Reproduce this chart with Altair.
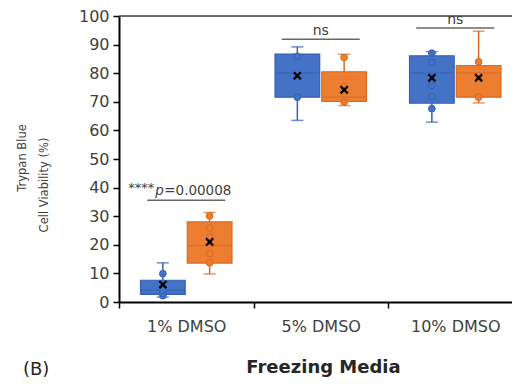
import altair as alt
import pandas as pd

categories = ["1% DMSO", "5% DMSO", "10% DMSO"]
series_names = ["Series 1", "Series 2"]
fills = ["#4472C4", "#ED7D31"]
strokes = ["#3461B3", "#D56A22"]

# box statistics (per category)
s1_lo = [1.7, 63.5, 62.9]
s1_q1 = [2.7, 71.6, 69.5]
s1_med = [4.1, 80.1, 80.1]
s1_q3 = [7.6, 86.7, 86.1]
s1_hi = [13.7, 89.2, 87.5]
s1_mean = [6.1, 79.1, 78.4]

s2_lo = [9.8, 68.7, 69.6]
s2_q1 = [13.6, 70.1, 71.6]
s2_med = [19.7, 71.6, 80.1]
s2_q3 = [28.0, 80.5, 82.7]
s2_hi = [31.3, 86.6, 94.7]
s2_mean = [21.0, 74.2, 78.4]

# individual points
s1_points = [[2.2, 3.0, 4.0, 9.9], [71.6, 85.9], [67.6, 71.8, 75.7, 83.8, 87.0]]
s2_points = [[13.7, 16.9, 22.6, 25.9, 30.1], [69.9, 75.3, 85.5], [71.6, 79.1, 84.0]]

# significance annotations
sig_bar_y = [35.6, 91.9, 95.8]
sig_labels = ["", "ns", "ns"]

frame_top = [100]

rows = []
for i, c in enumerate(categories):
    rows.append(dict(cat=c, series=series_names[0], lo=s1_lo[i], q1=s1_q1[i], med=s1_med[i],
                     q3=s1_q3[i], hi=s1_hi[i], mean=s1_mean[i]))
    rows.append(dict(cat=c, series=series_names[1], lo=s2_lo[i], q1=s2_q1[i], med=s2_med[i],
                     q3=s2_q3[i], hi=s2_hi[i], mean=s2_mean[i]))
box_df = pd.DataFrame(rows)

prow = []
for i, c in enumerate(categories):
    for v in s1_points[i]:
        prow.append(dict(cat=c, series=series_names[0], value=v))
    for v in s2_points[i]:
        prow.append(dict(cat=c, series=series_names[1], value=v))
pts_df = pd.DataFrame(prow)

sig_df = pd.DataFrame(dict(cat=categories, y=sig_bar_y, label=sig_labels))

FONT = "DejaVu Sans"
TXT = "#404040"

xenc = alt.X("cat:N", sort=categories,
             scale=alt.Scale(paddingInner=0, paddingOuter=0, range=[0, 403.5]),
             axis=alt.Axis(title="Freezing Media", labelAngle=0, tickBand="extent",
                           labelFontSize=16, labelColor=TXT, labelFont=FONT, labelPadding=10,
                           titleFont=FONT, titleFontSize=18, titleFontWeight="bold",
                           titleColor="#262626", titlePadding=24, titleX=204,
                           domainColor="black", domainWidth=2, tickColor="black",
                           tickWidth=1.5, tickSize=6))
xoff = alt.XOffset("series:N", sort=series_names,
                   scale=alt.Scale(paddingInner=0.045, paddingOuter=0.46))
yscale = alt.Scale(domain=[0, 100], nice=False)
yaxis = alt.Axis(title=None, values=list(range(0, 101, 10)), grid=False,
                 labelFontSize=16, labelColor=TXT, labelFont=FONT, labelPadding=4,
                 domainColor="black", domainWidth=2, tickColor="black", tickWidth=1.5,
                 tickSize=6)


def Y(field):
    return alt.Y(field, scale=yscale, axis=yaxis)


fill_enc = alt.Fill("series:N", scale=alt.Scale(domain=series_names, range=fills), legend=None)
stroke_enc = alt.Stroke("series:N", scale=alt.Scale(domain=series_names, range=strokes), legend=None)
color_enc = alt.Color("series:N", scale=alt.Scale(domain=series_names, range=strokes), legend=None)

base = alt.Chart(box_df).encode(x=xenc, xOffset=xoff)

whisk = base.mark_rule(strokeWidth=1.5).encode(y=Y("lo:Q"), y2="hi:Q", stroke=stroke_enc)
cap_lo = base.mark_tick(orient="horizontal", size=12, thickness=1.5).encode(
    y=Y("lo:Q"), color=color_enc)
cap_hi = base.mark_tick(orient="horizontal", size=12, thickness=1.5).encode(
    y=Y("hi:Q"), color=color_enc)
boxes = base.mark_bar(strokeWidth=1.2).encode(
    y=Y("q1:Q"), y2="q3:Q", fill=fill_enc, stroke=stroke_enc)
medians = base.mark_tick(orient="horizontal", size=44, thickness=1.3).encode(
    y=Y("med:Q"), color=color_enc)

points = alt.Chart(pts_df).mark_point(shape="circle", filled=True, size=45, strokeWidth=1,
                                      opacity=1).encode(
    x=xenc, xOffset=xoff, y=Y("value:Q"), fill=fill_enc, stroke=stroke_enc)

means = base.mark_point(shape="M-1,-1L1,1M-1,1L1,-1", filled=False, size=50,
                        strokeWidth=2.3, color="black", opacity=1).encode(y=Y("mean:Q"))

top_line = alt.Chart(pd.DataFrame(dict(v=frame_top))).mark_rule(
    color="#404040", strokeWidth=1.5).encode(y=Y("v:Q"), x=alt.value(0), x2=alt.value(404))

sig_chart = alt.Chart(sig_df)
sig_bars = sig_chart.mark_tick(orient="horizontal", size=78, thickness=1.5,
                               color="#262626").encode(x=xenc, y=Y("y:Q"))
sig_text = sig_chart.mark_text(fontSize=14, font=FONT, color=TXT, baseline="alphabetic",
                               dy=-4).encode(x=xenc, y=Y("y:Q"), text="label:N")

p_df = sig_df.iloc[[0]]
stars = alt.Chart(p_df).mark_text(text="****", fontSize=13, font=FONT, color=TXT,
                                  align="right", baseline="alphabetic", dx=-32, dy=-8).encode(
    x=xenc, y=Y("y:Q"))
p_it = alt.Chart(p_df).mark_text(text="p", fontSize=13.5, font=FONT, fontStyle="italic",
                                 color=TXT, align="left", baseline="alphabetic",
                                 dx=-31, dy=-5).encode(x=xenc, y=Y("y:Q"))
p_val = alt.Chart(p_df).mark_text(text="=0.00008", fontSize=13.5, font=FONT, color=TXT,
                                  align="left", baseline="alphabetic",
                                  dx=-22, dy=-5).encode(x=xenc, y=Y("y:Q"))

title_df = pd.DataFrame(dict(t=["Trypan Blue", "Cell Viability (%)"]))
ytitle1 = alt.Chart(title_df.iloc[[0]]).mark_text(angle=270, fontSize=11.5, font=FONT,
                                                  color=TXT, baseline="middle").encode(
    text="t:N", x=alt.value(-96), y=alt.value(142))
ytitle2 = alt.Chart(title_df.iloc[[1]]).mark_text(angle=270, fontSize=11.5, font=FONT,
                                                  color=TXT, baseline="middle").encode(
    text="t:N", x=alt.value(-74), y=alt.value(169))

panel_df = pd.DataFrame(dict(t=["(B)"]))
panel = alt.Chart(panel_df).mark_text(fontSize=18, font=FONT, color="#262626", align="left",
                                      baseline="bottom").encode(
    text="t:N", x=alt.value(-96), y=alt.value(363))

chart = alt.layer(
    top_line, whisk, cap_lo, cap_hi, boxes, medians, points, means,
    sig_bars, sig_text, stars, p_it, p_val, ytitle1, ytitle2, panel
).properties(
    width=393, height=286,
    autosize=alt.AutoSizeParams(type="none"),
    padding={"left": 111, "top": 8, "right": 0, "bottom": 78},
).configure_view(
    stroke=None
).configure(background="white")

chart.save("out.html", embed_options={"renderer": "svg", "actions": False})
